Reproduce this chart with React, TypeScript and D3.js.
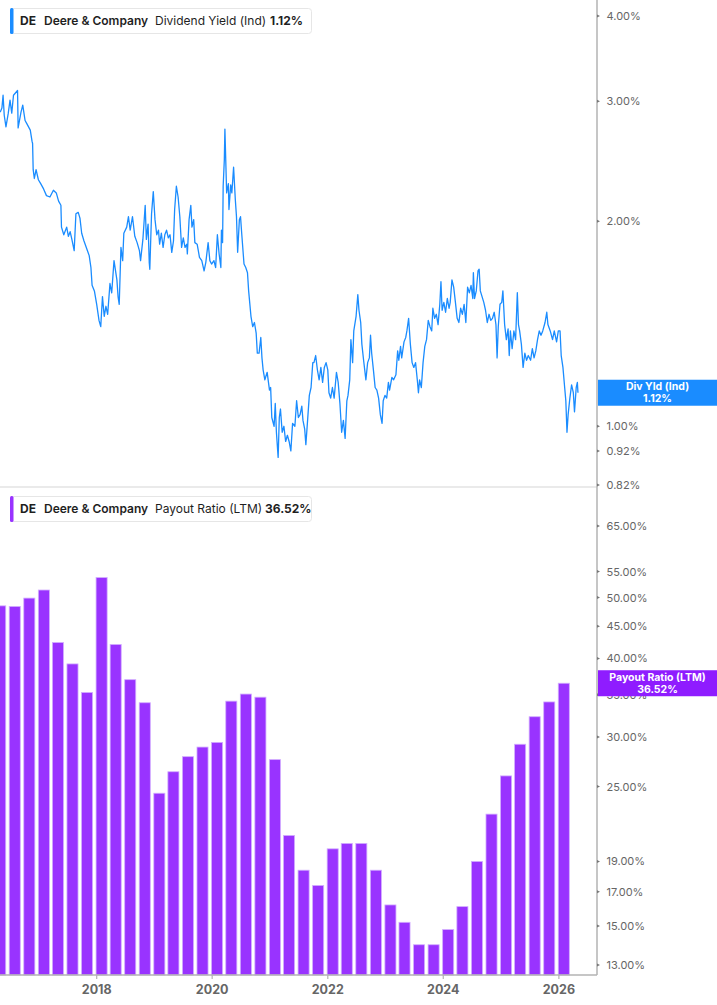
import * as d3 from 'd3';

// Dividend yield (Ind), % — as [decimal year, yield]
const divYield: [number, number][] = [
  [2016.33, 2.89], [2016.36, 2.93], [2016.38, 3.06], [2016.40, 2.86], [2016.43, 2.75], [2016.47, 2.88],
  [2016.50, 3.01], [2016.53, 2.88], [2016.56, 3.06], [2016.63, 3.11], [2016.64, 2.74], [2016.69, 2.89],
  [2016.72, 2.96], [2016.76, 2.81], [2016.79, 2.78], [2016.85, 2.72], [2016.88, 2.62], [2016.89, 2.60],
  [2016.90, 2.38], [2016.92, 2.31], [2016.95, 2.38], [2016.99, 2.30], [2017.03, 2.27], [2017.08, 2.23],
  [2017.13, 2.18], [2017.19, 2.17], [2017.25, 2.22], [2017.30, 2.20], [2017.34, 2.14], [2017.38, 2.11],
  [2017.39, 1.96], [2017.43, 1.91], [2017.48, 1.96], [2017.51, 1.90], [2017.54, 1.93], [2017.57, 1.88],
  [2017.61, 1.81], [2017.64, 2.05], [2017.68, 2.06], [2017.71, 2.02], [2017.74, 1.92], [2017.78, 1.87],
  [2017.84, 1.81], [2017.87, 1.78], [2017.90, 1.71], [2017.92, 1.61], [2017.96, 1.58], [2018.00, 1.51],
  [2018.04, 1.43], [2018.07, 1.40], [2018.10, 1.55], [2018.13, 1.45], [2018.16, 1.50], [2018.19, 1.46],
  [2018.23, 1.62], [2018.26, 1.57], [2018.30, 1.75], [2018.35, 1.64], [2018.37, 1.55], [2018.39, 1.51],
  [2018.42, 1.83], [2018.45, 1.75], [2018.47, 1.92], [2018.52, 1.96], [2018.55, 2.03], [2018.58, 1.94],
  [2018.62, 2.03], [2018.66, 1.90], [2018.70, 1.86], [2018.74, 1.81], [2018.76, 1.75], [2018.80, 1.88],
  [2018.84, 2.11], [2018.86, 1.88], [2018.89, 1.98], [2018.91, 1.74], [2018.92, 1.70], [2018.95, 2.05],
  [2018.98, 2.21], [2019.01, 2.01], [2019.04, 1.91], [2019.07, 1.94], [2019.09, 1.85], [2019.12, 1.92],
  [2019.15, 1.83], [2019.18, 1.91], [2019.21, 1.94], [2019.24, 1.89], [2019.27, 1.91], [2019.30, 1.80],
  [2019.33, 1.87], [2019.35, 2.08], [2019.38, 2.25], [2019.41, 2.17], [2019.44, 2.03], [2019.47, 1.83],
  [2019.50, 1.89], [2019.53, 1.83], [2019.56, 1.85], [2019.57, 1.79], [2019.60, 2.01], [2019.63, 2.11],
  [2019.65, 1.96], [2019.68, 2.01], [2019.70, 1.86], [2019.74, 1.85], [2019.78, 1.77], [2019.82, 1.75],
  [2019.86, 1.69], [2019.89, 1.74], [2019.93, 1.86], [2019.96, 1.75], [2019.99, 1.73], [2020.03, 1.75],
  [2020.06, 1.71], [2020.09, 1.91], [2020.12, 1.79], [2020.15, 1.71], [2020.16, 1.94], [2020.18, 1.86],
  [2020.19, 2.25], [2020.21, 2.46], [2020.22, 2.73], [2020.25, 2.20], [2020.28, 2.27], [2020.29, 2.08],
  [2020.32, 2.26], [2020.34, 2.20], [2020.37, 2.40], [2020.40, 2.15], [2020.42, 2.03], [2020.44, 1.80],
  [2020.47, 2.01], [2020.49, 2.03], [2020.51, 1.92], [2020.55, 1.73], [2020.58, 1.71], [2020.61, 1.68],
  [2020.63, 1.58], [2020.67, 1.45], [2020.70, 1.40], [2020.73, 1.42], [2020.76, 1.37], [2020.78, 1.28],
  [2020.81, 1.28], [2020.84, 1.35], [2020.86, 1.26], [2020.88, 1.21], [2020.91, 1.17], [2020.95, 1.20],
  [2020.99, 1.13], [2021.01, 1.14], [2021.03, 1.03], [2021.07, 1.00], [2021.09, 1.08], [2021.11, 0.98],
  [2021.14, 0.90], [2021.16, 1.03], [2021.18, 1.06], [2021.21, 0.98], [2021.24, 1.00], [2021.27, 0.95],
  [2021.30, 0.97], [2021.33, 0.95], [2021.34, 0.94], [2021.36, 0.92], [2021.39, 1.01], [2021.43, 1.00],
  [2021.46, 1.09], [2021.49, 1.03], [2021.52, 1.04], [2021.55, 1.07], [2021.57, 1.02], [2021.60, 0.99],
  [2021.62, 0.94], [2021.65, 1.02], [2021.68, 1.11], [2021.71, 1.14], [2021.74, 1.24], [2021.76, 1.24],
  [2021.79, 1.27], [2021.82, 1.21], [2021.85, 1.17], [2021.88, 1.22], [2021.91, 1.16], [2021.94, 1.22],
  [2021.97, 1.24], [2022.00, 1.21], [2022.02, 1.12], [2022.05, 1.10], [2022.08, 1.14], [2022.11, 1.10],
  [2022.15, 1.20], [2022.18, 1.16], [2022.21, 1.08], [2022.24, 0.98], [2022.27, 1.02], [2022.30, 0.96],
  [2022.33, 1.09], [2022.35, 1.11], [2022.38, 1.17], [2022.40, 1.34], [2022.43, 1.24], [2022.45, 1.38],
  [2022.49, 1.45], [2022.52, 1.56], [2022.54, 1.48], [2022.57, 1.42], [2022.59, 1.32], [2022.62, 1.25],
  [2022.66, 1.17], [2022.69, 1.24], [2022.72, 1.26], [2022.74, 1.36], [2022.76, 1.28], [2022.79, 1.21],
  [2022.82, 1.14], [2022.85, 1.13], [2022.88, 1.10], [2022.91, 1.04], [2022.94, 1.01], [2022.96, 1.09],
  [2022.99, 1.11], [2023.02, 1.10], [2023.05, 1.16], [2023.07, 1.13], [2023.11, 1.18], [2023.14, 1.17],
  [2023.18, 1.19], [2023.21, 1.29], [2023.23, 1.25], [2023.26, 1.31], [2023.28, 1.26], [2023.32, 1.33],
  [2023.35, 1.35], [2023.37, 1.38], [2023.40, 1.44], [2023.43, 1.32], [2023.46, 1.24], [2023.49, 1.22],
  [2023.52, 1.24], [2023.55, 1.17], [2023.57, 1.12], [2023.59, 1.17], [2023.62, 1.14], [2023.65, 1.24],
  [2023.68, 1.31], [2023.71, 1.34], [2023.74, 1.43], [2023.77, 1.40], [2023.80, 1.38], [2023.82, 1.49],
  [2023.85, 1.44], [2023.88, 1.46], [2023.91, 1.41], [2023.94, 1.51], [2023.96, 1.63], [2023.98, 1.48],
  [2024.01, 1.52], [2024.04, 1.47], [2024.07, 1.54], [2024.10, 1.49], [2024.12, 1.52], [2024.15, 1.64],
  [2024.18, 1.60], [2024.21, 1.52], [2024.24, 1.44], [2024.27, 1.42], [2024.30, 1.49], [2024.33, 1.46],
  [2024.36, 1.51], [2024.39, 1.42], [2024.42, 1.60], [2024.45, 1.57], [2024.48, 1.61], [2024.51, 1.54],
  [2024.52, 1.68], [2024.54, 1.54], [2024.57, 1.58], [2024.60, 1.69], [2024.62, 1.70], [2024.64, 1.58],
  [2024.67, 1.55], [2024.70, 1.52], [2024.73, 1.48], [2024.76, 1.42], [2024.79, 1.46], [2024.82, 1.43],
  [2024.85, 1.44], [2024.88, 1.47], [2024.91, 1.41], [2024.93, 1.26], [2024.95, 1.40], [2024.98, 1.51],
  [2025.01, 1.52], [2025.03, 1.58], [2025.06, 1.41], [2025.09, 1.34], [2025.12, 1.39], [2025.14, 1.27],
  [2025.16, 1.38], [2025.19, 1.30], [2025.22, 1.38], [2025.25, 1.34], [2025.28, 1.57], [2025.30, 1.41],
  [2025.32, 1.38], [2025.35, 1.32], [2025.38, 1.22], [2025.41, 1.28], [2025.44, 1.25], [2025.47, 1.27],
  [2025.51, 1.25], [2025.54, 1.30], [2025.57, 1.26], [2025.60, 1.29], [2025.63, 1.34], [2025.66, 1.38],
  [2025.69, 1.36], [2025.72, 1.38], [2025.76, 1.42], [2025.79, 1.47], [2025.81, 1.41], [2025.85, 1.38],
  [2025.89, 1.34], [2025.92, 1.38], [2025.96, 1.33], [2025.99, 1.38], [2026.02, 1.38], [2026.04, 1.27],
  [2026.07, 1.22], [2026.10, 1.14], [2026.12, 1.09], [2026.14, 0.98], [2026.16, 1.04], [2026.19, 1.10],
  [2026.22, 1.15], [2026.25, 1.12], [2026.27, 1.05], [2026.30, 1.14], [2026.32, 1.16], [2026.33, 1.12],
];

// Payout ratio (LTM), % by fiscal quarter
const payoutDates = [
  '2016-05-01', '2016-08-01', '2016-11-01', '2017-02-01', '2017-05-01', '2017-08-01', '2017-11-01',
  '2018-02-01', '2018-05-01', '2018-08-01', '2018-11-01', '2019-02-01', '2019-05-01', '2019-08-01',
  '2019-11-01', '2020-02-01', '2020-05-01', '2020-08-01', '2020-11-01', '2021-02-01', '2021-05-01',
  '2021-08-01', '2021-11-01', '2022-02-01', '2022-05-01', '2022-08-01', '2022-11-01', '2023-02-01',
  '2023-05-01', '2023-08-01', '2023-11-01', '2024-02-01', '2024-05-01', '2024-08-01', '2024-11-01',
  '2025-02-01', '2025-05-01', '2025-08-01', '2025-11-01', '2026-02-01',
];
const payoutValues = [
  48.5, 48.4, 49.9, 51.4, 42.4, 39.2, 35.3,
  53.8, 42.1, 37.0, 34.0, 24.4, 26.4, 27.9,
  28.9, 29.4, 34.2, 35.1, 34.7, 27.6, 20.9,
  18.4, 17.4, 19.9, 20.3, 20.3, 18.4, 16.2,
  15.2, 14.0, 14.0, 14.8, 16.1, 19.0, 22.6,
  26.0, 29.2, 32.3, 34.1, 36.52,
];

const yieldTicks = [0.82, 0.92, 1.0, 2.0, 3.0, 4.0];
const payoutTicks = [13, 15, 17, 19, 25, 30, 35, 40, 45, 50, 55, 65];
const yearTicks = [2018, 2020, 2022, 2024, 2026];

const lastYield = 1.12;
const lastPayout = 36.52;

const BLUE = '#1a8cff';
const PURPLE = '#9933ff';
const PURPLE_TAG = '#8f1cff';
const FONT = 'Inter, "Noto Sans", sans-serif';

function yearToDate(y: number) {
  const yr = Math.floor(y);
  const start = Date.UTC(yr, 0, 1);
  const end = Date.UTC(yr + 1, 0, 1);
  return new Date(start + (y - yr) * (end - start));
}

const width = 717;
const height = 1005;
const plotRight = 597;
const topBottom = 487;
const axisY = 975;

const x = d3.scaleUtc()
  .domain([yearToDate(2016.327), yearToDate(2026.66)])
  .range([0, plotRight]);

const yTop = d3.scaleLog().domain([0.8145, 4.222]).range([topBottom, 0]);
const yBot = d3.scaleLog().domain([12.53, 74.17]).range([axisY, 490]);

function Legend({ y, color, metric, value, valueX }: {
  y: number; color: string; metric: string; value: string; valueX: number;
}) {
  const mid = y + 12.5;
  return (
    <g fontFamily={FONT} fontSize={12} fill="#1f1f1f">
      <rect x={10.5} y={y + 0.5} width={301} height={25} rx={3} fill="#fff" stroke="#e6e6e6" />
      <rect x={10} y={y} width={3.5} height={26} rx={1.5} fill={color} />
      <text x={20} y={mid} dominantBaseline="central" fontWeight={700}>DE</text>
      <text x={44} y={mid} dominantBaseline="central" fontWeight={600}>Deere &amp; Company</text>
      <text x={155} y={mid} dominantBaseline="central" fontWeight={400}>{metric}</text>
      <text x={valueX} y={mid} dominantBaseline="central" fontWeight={700}>{value}</text>
    </g>
  );
}

function Tag({ cy, color, label, value }: { cy: number; color: string; label: string; value: string }) {
  return (
    <g fontFamily={FONT} fontSize={10.5} fontWeight={700} fill="#fff" textAnchor="middle">
      <rect x={plotRight + 1} y={cy - 13} width={width - plotRight - 1} height={26} fill={color} />
      <text x={657.5} y={cy - 6} dominantBaseline="central">{label}</text>
      <text x={657.5} y={cy + 6} dominantBaseline="central">{value}</text>
    </g>
  );
}

export default function App() {
  const line = d3.line<[number, number]>()
    .x(d => x(yearToDate(d[0])))
    .y(d => yTop(d[1]));

  const dates = payoutDates.map(s => new Date(s + 'T00:00:00Z'));
  const step = x(dates[1]) - x(dates[0]);
  const barW = step * 0.76;

  return (
    <div style={{ position: 'absolute', left: 0, top: 0 }}>
      <svg width={width} height={height} viewBox={`0 0 ${width} ${height}`} style={{ display: 'block', background: '#fff' }}>
        {/* payout bars */}
        <g>
          {payoutValues.map((v, i) => {
            const cx = x(dates[i]);
            const top = yBot(v);
            return (
              <rect key={i} x={cx - barW / 2} y={top} width={barW} height={axisY - top}
                fill={PURPLE} stroke="#d2adff" strokeWidth={0.8} />
            );
          })}
        </g>

        {/* dividend yield line */}
        <path d={line(divYield) ?? ''} fill="none" stroke={BLUE} strokeWidth={1.3} strokeLinejoin="round" />

        {/* panel separator and axes */}
        <line x1={0} x2={plotRight} y1={topBottom} y2={topBottom} stroke="#d6d6d6" strokeWidth={1.2} />
        <line x1={0} x2={plotRight} y1={axisY} y2={axisY} stroke="#b3b3b3" strokeWidth={1.5} />
        <line x1={plotRight} x2={plotRight} y1={0} y2={axisY} stroke="#b3b3b3" strokeWidth={1.5} />

        {/* right axis ticks */}
        <g fontFamily={FONT} fontSize={11} fill="#666">
          {yieldTicks.map(t => (
            <g key={'y' + t} transform={`translate(0,${yTop(t)})`}>
              <path d={`M${plotRight},-1.5L${plotRight + 3},0L${plotRight},1.5Z`} fill="#777" />
              <text x={606.5} dominantBaseline="central">{t.toFixed(2)}%</text>
            </g>
          ))}
          {payoutTicks.map(t => (
            <g key={'p' + t} transform={`translate(0,${yBot(t)})`}>
              <path d={`M${plotRight},-1.5L${plotRight + 3},0L${plotRight},1.5Z`} fill="#777" />
              <text x={606.5} dominantBaseline="central">{t.toFixed(2)}%</text>
            </g>
          ))}
        </g>

        {/* x axis */}
        <g fontFamily={FONT} fontSize={12.5} fontWeight={700} fill="#666" textAnchor="middle">
          {yearTicks.map(yr => {
            const tx = x(yearToDate(yr));
            return (
              <g key={yr}>
                <line x1={tx} x2={tx} y1={axisY} y2={axisY + 4} stroke="#b3b3b3" strokeWidth={1.2} />
                <text x={tx} y={989} dominantBaseline="central">{yr}</text>
              </g>
            );
          })}
        </g>

        {/* last value tags */}
        <Tag cy={yTop(lastYield)} color={BLUE} label="Div Yld (Ind)" value={`${lastYield.toFixed(2)}%`} />
        <Tag cy={yBot(lastPayout)} color={PURPLE_TAG} label="Payout Ratio (LTM)" value={`${lastPayout.toFixed(2)}%`} />

        {/* legends */}
        <Legend y={8} color={BLUE} metric="Dividend Yield (Ind)" value={`${lastYield.toFixed(2)}%`} valueX={270} />
        <Legend y={496} color={PURPLE} metric="Payout Ratio (LTM)" value={`${lastPayout.toFixed(2)}%`} valueX={265} />
      </svg>
    </div>
  );
}
